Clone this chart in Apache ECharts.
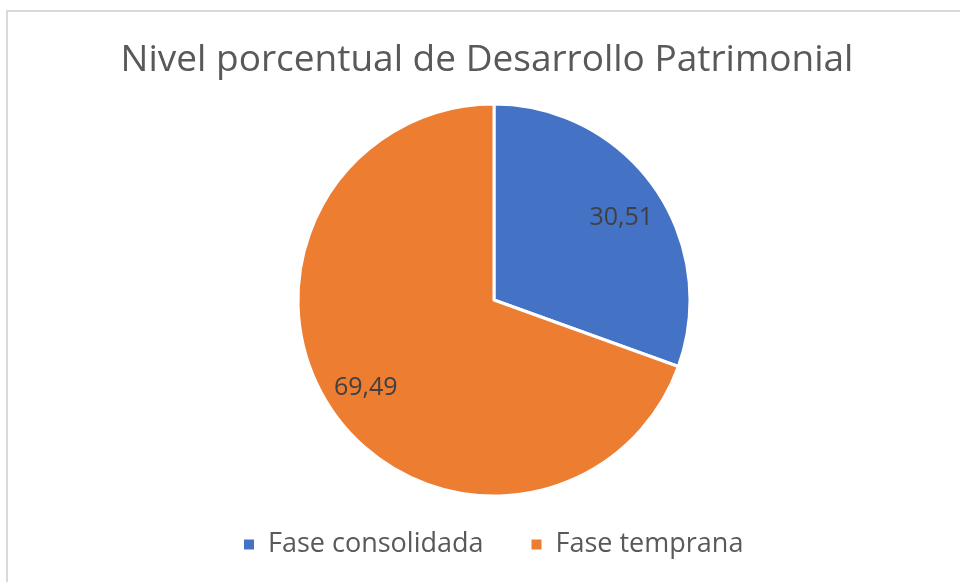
<!DOCTYPE html>
<html>
<head>
<meta charset="utf-8">
<script src="https://cdn.jsdelivr.net/npm/echarts@6/dist/echarts.min.js"></script>
<style>
  html, body { margin: 0; padding: 0; background: #ffffff; }
  #chart { width: 960px; height: 582px; }
</style>
</head>
<body>
<div id="chart"></div>
<script>
// Share of assets by development phase (percent)
const categories = ['Fase consolidada', 'Fase temprana'];
const values = [30.51, 69.49];
const colors = ['#4472C4', '#ED7D31'];
const titleText = 'Nivel porcentual de Desarrollo Patrimonial';

const font = "'Open Sans', 'Noto Sans', sans-serif";
const pieData = categories.map((name, i) => ({ name, value: values[i] }));
const fmt = p => p.value.toFixed(2).replace('.', ',');

const chart = echarts.init(document.getElementById('chart'), null, { renderer: 'canvas' });
chart.setOption({
  backgroundColor: '#ffffff',
  animation: false,
  color: colors,
  graphic: [{
    type: 'rect',
    z: -10,
    shape: { x: 7, y: 11, width: 1000, height: 620 },
    style: { fill: '#ffffff', stroke: '#d9d9d9', lineWidth: 2 }
  }],
  title: {
    text: titleText,
    left: 482,
    textAlign: 'center',
    top: 37,
    textStyle: { fontFamily: font, fontSize: 37, fontWeight: 'normal', color: '#595959' }
  },
  legend: {
    data: categories,
    left: 237,
    top: 526,
    icon: 'rect',
    itemWidth: 12,
    itemHeight: 12,
    itemGap: 46,
    textStyle: { fontFamily: font, fontSize: 27, color: '#595959', padding: [0, 0, 0, 8] }
  },
  series: [
    {
      // slices
      type: 'pie',
      center: [494, 300],
      radius: [0, 196],
      startAngle: 90,
      clockwise: true,
      data: pieData,
      itemStyle: { borderColor: '#ffffff', borderWidth: 3 },
      label: { show: false },
      labelLine: { show: false },
      emphasis: { disabled: true }
    },
    {
      // value labels, placed on the outer ring band of the pie
      type: 'pie',
      center: [494, 300],
      radius: [104, 196],
      startAngle: 90,
      clockwise: true,
      silent: true,
      data: pieData,
      itemStyle: { color: 'rgba(0,0,0,0)', borderWidth: 0 },
      label: {
        show: true,
        position: 'inside',
        formatter: fmt,
        fontFamily: font,
        fontSize: 25,
        color: '#404040'
      },
      // the first label sits a little lower inside its slice
      labelLayout: p => (p.dataIndex === 0 ? { dy: 6, dx: 2 } : { dx: -3 }),
      labelLine: { show: false },
      emphasis: { disabled: true }
    }
  ]
});
</script>
</body>
</html>
